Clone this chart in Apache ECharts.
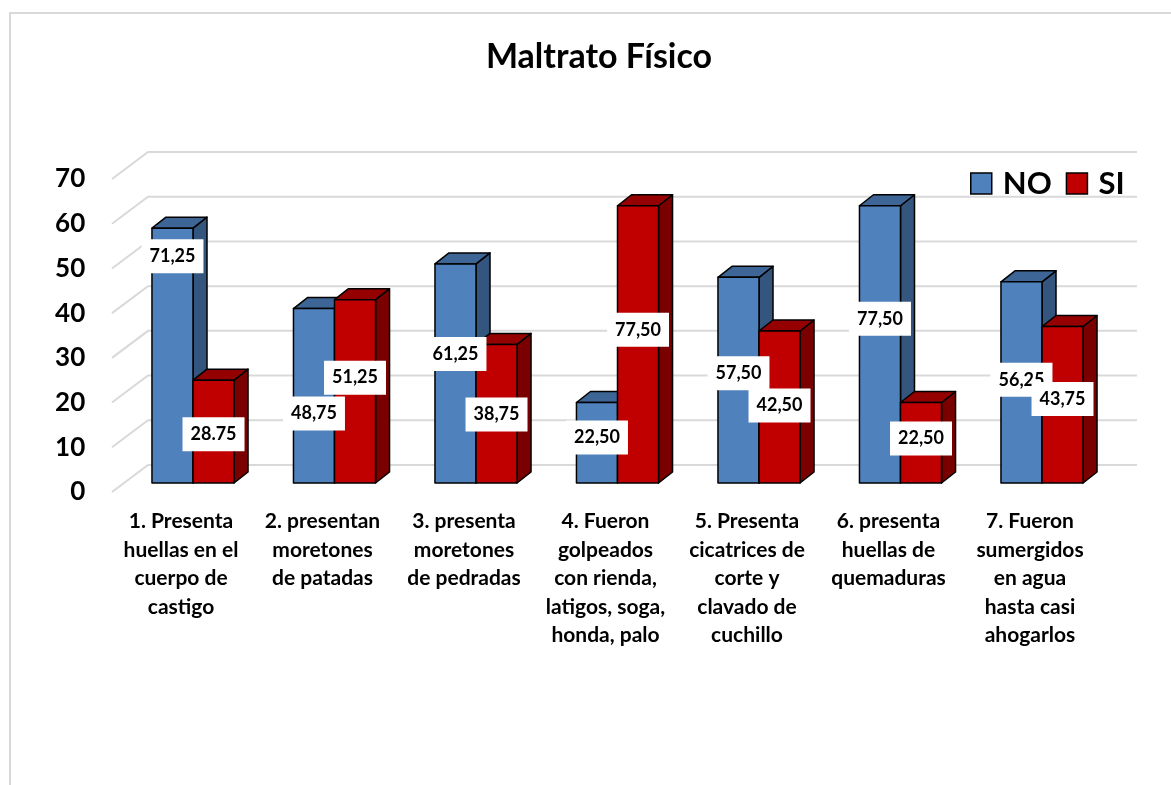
<!DOCTYPE html>
<html>
<head>
<meta charset="utf-8">
<script src="https://cdn.jsdelivr.net/npm/echarts@6/dist/echarts.min.js"></script>
<style>html,body{margin:0;padding:0;background:#fff;}#chart{width:1171px;height:785px;}</style>
</head>
<body>
<div id="chart"></div>
<script>
// ---- data ----
const categories = [
  '1. Presenta\nhuellas en el\ncuerpo de\ncastigo',
  '2. presentan\nmoretones\nde patadas',
  '3. presenta\nmoretones\nde pedradas',
  '4. Fueron\ngolpeados\ncon rienda,\nlatigos, soga,\nhonda, palo',
  '5. Presenta\ncicatrices de\ncorte y\nclavado de\ncuchillo',
  '6. presenta\nhuellas de\nquemaduras',
  '7. Fueron\nsumergidos\nen agua\nhasta casi\nahogarlos'
];
const seriesNames = ['NO', 'SI'];
const noValues = [57, 39, 49, 18, 46, 62, 45];
const siValues = [23, 41, 31, 62, 34, 18, 35];
const noLabels = ['71,25', '48,75', '61,25', '22,50', '57,50', '77,50', '56,25'];
const siLabels = ['28.75', '51,25', '38,75', '77,50', '42,50', '22,50', '43,75'];
const yTicks = [0, 10, 20, 30, 40, 50, 60, 70];
const title = 'Maltrato Físico';

// ---- layout / style (not data) ----
const FONT = 'Lato, "Open Sans", sans-serif';
const DX = 14, DY = 11;            // 3D depth offset of bars
const BAR_RATIO = 0.29;            // bar width / category band
const WALL_DX = 36, WALL_DY = 27;  // floor depth for gridline diagonals
// label centre distance (px) below each bar's front top, as placed in the original
const noLabelDrop = [28, 105, 90, 35, 96, 113, 98];
const siLabelDrop = [54, 78, 70, 124, 74.5, 36, 72.5];
const colors = {
  NO: { front: '#4F81BD', top: '#3D6696', side: '#34557D' },
  SI: { front: '#C00000', top: '#950000', side: '#7A0000' }
};

const chart = echarts.init(document.getElementById('chart'));

function barRender(which) {
  const c = colors[which];
  return function (params, api) {
    const idx = api.value(0), v = api.value(1);
    const top = api.coord([idx, v]);
    const base = api.coord([idx, 0]);
    const w = api.size([1, 0])[0] * BAR_RATIO;
    const x0 = which === 'NO' ? top[0] - w : top[0];
    const x1 = x0 + w;
    const yt = top[1], yb = base[1];
    const st = { stroke: '#000', lineWidth: 1.5, lineJoin: 'round' };
    return {
      type: 'group',
      children: [
        { type: 'polygon', shape: { points: [[x1, yt], [x1 + DX, yt - DY], [x1 + DX, yb - DY], [x1, yb]] }, style: Object.assign({ fill: c.side }, st) },
        { type: 'polygon', shape: { points: [[x0, yt], [x0 + DX, yt - DY], [x1 + DX, yt - DY], [x1, yt]] }, style: Object.assign({ fill: c.top }, st) },
        { type: 'polygon', shape: { points: [[x0, yt], [x1, yt], [x1, yb], [x0, yb]] }, style: Object.assign({ fill: c.front }, st) }
      ]
    };
  };
}

function labelRender(which, texts, drops) {
  return function (params, api) {
    const idx = api.value(0), v = api.value(1);
    const top = api.coord([idx, v]);
    const w = api.size([1, 0])[0] * BAR_RATIO;
    const cx = which === 'NO' ? top[0] - w / 2 : top[0] + w / 2;
    return {
      type: 'text',
      x: cx, y: top[1] + drops[params.dataIndex],
      style: {
        text: texts[params.dataIndex],
        fill: '#000',
        font: 'bold 18px ' + FONT,
        align: 'center', verticalAlign: 'middle',
        backgroundColor: '#fff',
        padding: [8, 8, 8, 8],
        lineHeight: 18
      }
    };
  };
}

function gridRender(params, api) {
  const cs = params.coordSys;
  const y = api.coord([0, api.value(1)])[1];
  return {
    type: 'polyline',
    shape: { points: [[cs.x - WALL_DX, y + WALL_DY], [cs.x, y], [cs.x + cs.width, y]] },
    style: { stroke: '#D9D9D9', lineWidth: 2, fill: null }
  };
}

const noData = noValues.map((v, i) => [i, v]);
const siData = siValues.map((v, i) => [i, v]);

chart.setOption({
  animation: false,
  backgroundColor: '#fff',
  title: {
    text: title, left: 594, top: 35, textAlign: 'center',
    textStyle: { fontFamily: FONT, fontWeight: 'bold', fontSize: 34, color: '#000' }
  },
  graphic: [{
    type: 'rect', shape: { x: 10, y: 13, width: 1200, height: 800 },
    style: { fill: null, stroke: '#D9D9D9', lineWidth: 2 }, silent: true
  }],
  legend: {
    data: [
      { name: 'NO', itemStyle: { color: colors.NO.front, borderColor: '#000', borderWidth: 1.5 } },
      { name: 'SI', itemStyle: { color: colors.SI.front, borderColor: '#000', borderWidth: 1.5 } }
    ],
    left: 965, top: 163, itemWidth: 21, itemHeight: 21, itemGap: 14,
    icon: 'rect',
    textStyle: { fontFamily: FONT, fontWeight: 'bold', fontSize: 31, color: '#000', lineHeight: 21, padding: [0, 0, 0, 6] }
  },
  grid: [
    { left: 122.25, right: 58.25, top: 170, bottom: 302 },   // bars
    { left: 148, right: 34, top: 152, bottom: 320 },          // back wall gridlines
    { left: 110.25, right: 70.25, top: 179, bottom: 293 }     // front axis labels
  ],
  xAxis: [
    { gridIndex: 0, type: 'category', data: categories, show: false },
    { gridIndex: 1, type: 'value', min: 0, max: 1, show: false },
    { gridIndex: 2, type: 'category', data: categories,
      axisLine: { show: false }, axisTick: { show: false },
      axisLabel: { interval: 0, margin: 15, fontFamily: FONT, fontWeight: 'bold', fontSize: 21, lineHeight: 28.5, color: '#000' } }
  ],
  yAxis: [
    { gridIndex: 0, type: 'value', min: 0, max: 70, interval: 10, show: false },
    { gridIndex: 1, type: 'value', min: 0, max: 70, interval: 10, show: false },
    { gridIndex: 2, type: 'value', min: 0, max: 70, interval: 10,
      axisLine: { show: false }, axisTick: { show: false }, splitLine: { show: false },
      axisLabel: { margin: 25, fontFamily: FONT, fontWeight: 'bold', fontSize: 26, color: '#000' } }
  ],
  series: [
    { type: 'custom', name: 'grid', xAxisIndex: 1, yAxisIndex: 1, z: 1, silent: true,
      data: yTicks.map(t => [0, t]), renderItem: gridRender },
    { type: 'custom', name: seriesNames[0], xAxisIndex: 0, yAxisIndex: 0, z: 2,
      itemStyle: { color: colors.NO.front }, data: noData, renderItem: barRender('NO') },
    { type: 'custom', name: seriesNames[1], xAxisIndex: 0, yAxisIndex: 0, z: 3,
      itemStyle: { color: colors.SI.front }, data: siData, renderItem: barRender('SI') },
    { type: 'custom', name: 'NO labels', xAxisIndex: 0, yAxisIndex: 0, z: 10, silent: true,
      data: noData, renderItem: labelRender('NO', noLabels, noLabelDrop) },
    { type: 'custom', name: 'SI labels', xAxisIndex: 0, yAxisIndex: 0, z: 11, silent: true,
      data: siData, renderItem: labelRender('SI', siLabels, siLabelDrop) }
  ]
});
</script>
</body>
</html>
